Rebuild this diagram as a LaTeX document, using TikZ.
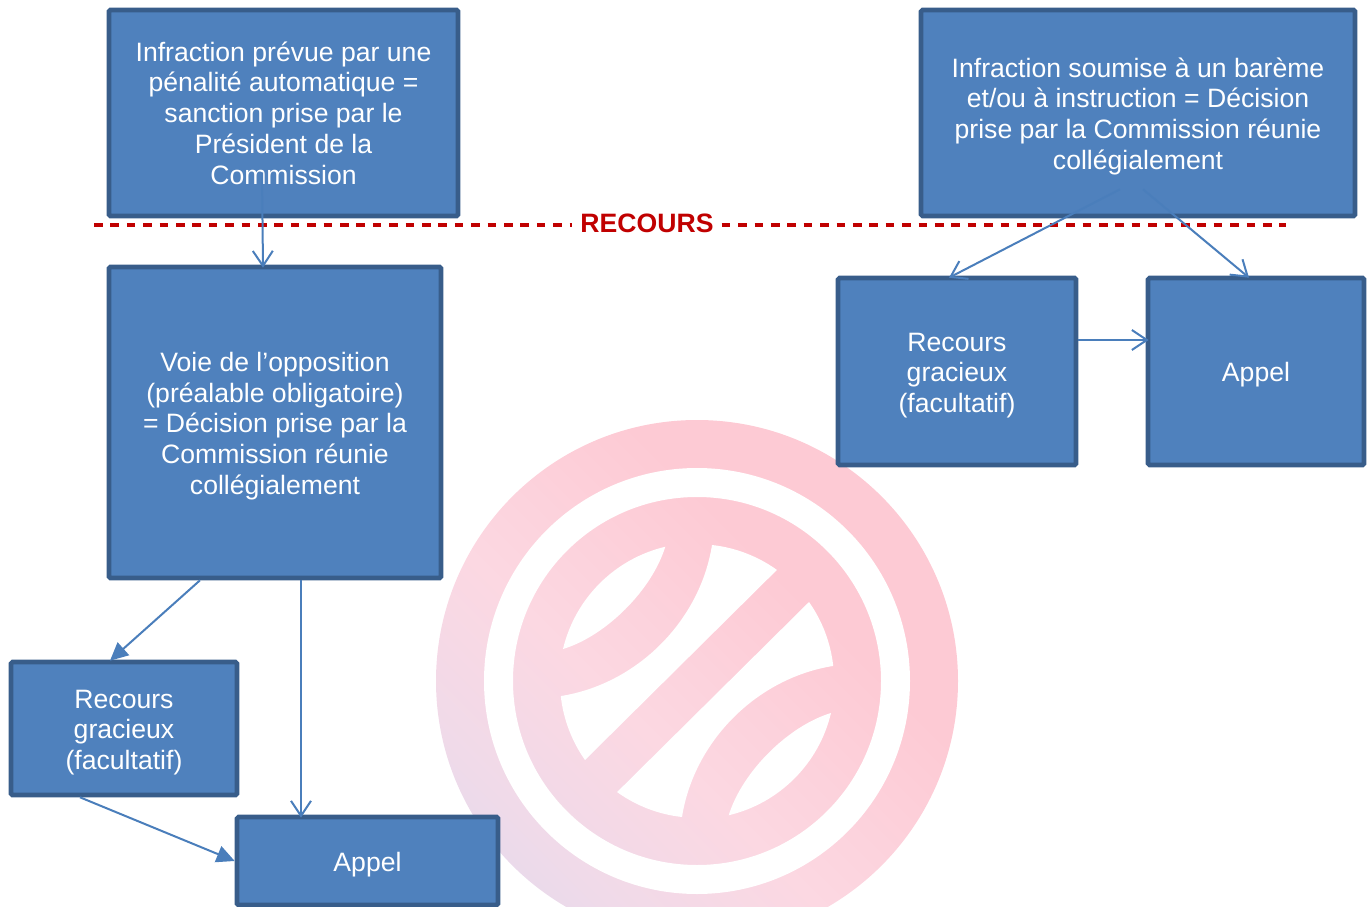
\documentclass[tikz,border=0pt]{standalone}
\usepackage{fontspec}
\setmainfont{Liberation Sans}
\usetikzlibrary{arrows.meta}
\definecolor{boxfill}{HTML}{4F81BD}
\definecolor{boxline}{HTML}{385D8A}
\definecolor{arrowc}{HTML}{4A7EBB}
\definecolor{redc}{HTML}{C00000}
\definecolor{wmA}{HTML}{FDCAD4}
\definecolor{wmB}{HTML}{FCD8E2}
\definecolor{wmM}{HTML}{F0DAE9}
\definecolor{wmC}{HTML}{DFD9EE}
\pgfdeclareverticalshading{wmshade}{100bp}{color(0bp)=(wmC); color(16bp)=(wmC); color(29bp)=(wmM); color(43bp)=(wmB); color(63bp)=(wmA); color(100bp)=(wmA)}
\tikzset{
  box/.style={draw=boxline,line width=4.6pt,fill=boxfill,rounded corners=1.5pt,inner sep=0pt,
    text=white,align=center,font=\fontsize{26.6pt}{30.7pt}\selectfont},
  conn/.style={draw=arrowc,line width=2pt},
  openarrow/.style={conn,-{Straight Barb[length=15pt,width=20pt,line width=2pt]}},
  fillarrow/.style={conn,-{Triangle[length=18pt,width=17pt,fill=arrowc]}},
  redline/.style={draw=redc,line width=3.4pt,dash pattern=on 8.6pt off 7.8pt},
  recourslabel/.style={text=redc,inner sep=0pt,font=\bfseries\fontsize{26.6pt}{30pt}\selectfont},
}
\newcommand{\tdn}{\rule{0pt}{26pt}}
\newcommand{\wmholes}{%
  \fill[white] (-134,-32) arc[start angle=193.4,end angle=256.6,radius=138]
     .. controls (-45,-91) and (-91,-45) .. cycle;
  \fill[white] (15,-136) arc[start angle=276.3,end angle=305.7,radius=137]
     -- (-112,79) arc[start angle=144.8,end angle=173.7,radius=137]
     .. controls (-60,3) and (3,-60) .. cycle;
}
\begin{document}
\begin{tikzpicture}[x=1pt,y=-1pt]
\useasboundingbox (0,0) rectangle (1369,907);
\begin{scope}
\clip (0,0) rectangle (1369,907);
% watermark
\shade[shading=wmshade,shading angle=-45] (697,681) circle[radius=261];
\fill[white,even odd rule] (697,681) circle[radius=213] (697,681) circle[radius=184];
\begin{scope}[shift={(697,681)}]
\wmholes
\end{scope}
\begin{scope}[shift={(697,681)},rotate=180]
\wmholes
\end{scope}
% boxes
\node[box,minimum width=349pt,minimum height=206pt] (b1) at (283.5,113) {Infraction prévue par une\\pénalité automatique =\\sanction prise par le\\Président de la\\Commission};
\node[box,minimum width=434pt,minimum height=206pt] (b3) at (1138,113) {\tdn Infraction soumise à un barème\\et/ou à instruction = Décision\\prise par la Commission réunie\\collégialement};
\node[box,minimum width=332pt,minimum height=311pt] (b2) at (275,422.5) {\tdn Voie de l’opposition\\(préalable obligatoire)\\= Décision prise par la\\Commission réunie\\collégialement};
\node[box,minimum width=226pt,minimum height=133pt] (b4) at (124,728.5) {\tdn Recours\\gracieux\\(facultatif)};
\node[box,minimum width=261pt,minimum height=88pt] (b5) at (367.5,861) {\tdn Appel};
\node[box,minimum width=238pt,minimum height=187pt] (b6) at (957,371.5) {\tdn Recours\\gracieux\\(facultatif)};
\node[box,minimum width=216pt,minimum height=187pt] (b7) at (1256,371.5) {\tdn Appel};
% recours line
\node[recourslabel] (rec) at (647,223) {RECOURS};
\coordinate (redl) at (94,225);
\coordinate (redr) at (1286,225);
\draw[redline] (redl) -- ([xshift=-8pt]rec.west |- redl);
\draw[redline] ([xshift=8pt]rec.east |- redr) -- (redr);
% connectors
\draw[openarrow] ([xshift=-21.5pt,yshift=46pt]b1.south) -- ([xshift=-12pt,yshift=-3pt]b2.north);
\draw[openarrow] ([xshift=-18pt,yshift=29pt]b3.south) -- ([xshift=-8pt,yshift=-2pt]b6.north);
\draw[openarrow] ([xshift=5pt,yshift=29pt]b3.south) -- ([xshift=-7pt,yshift=-2pt]b7.north);
\draw[openarrow] (b6.east |- 0,340) -- ([xshift=3pt]b7.west |- 0,340);
\draw[fillarrow] ([xshift=-75pt]b2.south) -- ([xshift=-14pt,yshift=-1pt]b4.north);
\draw[openarrow] ([xshift=26pt]b2.south) -- ([xshift=-66.5pt,yshift=-3pt]b5.north);
\draw[fillarrow] ([xshift=-44pt]b4.south) -- ([yshift=0pt]b5.west);
\end{scope}
\end{tikzpicture}
\end{document}
